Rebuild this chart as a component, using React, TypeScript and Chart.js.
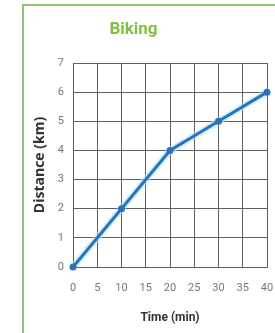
import React, { useEffect, useRef } from "react";
import { Chart, registerables } from "chart.js";

Chart.register(...registerables);

const titleText = "Biking";
const xTitle = "Time (min)";
const yTitle = "Distance (km)";
const timeMin = [0, 10, 20, 30, 40];
const distanceKm = [0, 2, 4, 5, 6];

const TICKFONT = "Roboto, 'Liberation Sans', sans-serif";

export default function App() {
  const ref = useRef<HTMLCanvasElement | null>(null);

  useEffect(() => {
    if (!ref.current) return;
    const pts = timeMin.map((x, i) => ({ x, y: distanceKm[i] }));
    const chart = new Chart(ref.current, {
      type: "line",
      data: {
        datasets: [
          {
            data: pts,
            borderColor: "#2a72bc",
            backgroundColor: "#2a72bc",
            borderWidth: 3,
            pointRadius: 3.5,
            pointBorderWidth: 0,
            tension: 0,
            clip: false,
            order: 0,
          },
          {
            data: pts,
            borderColor: "rgba(175,228,248,0.55)",
            borderWidth: 7,
            pointRadius: 0,
            tension: 0,
            clip: false,
            order: 1,
          },
        ],
      },
      options: {
        animation: false,
        responsive: false,
        maintainAspectRatio: false,
        layout: { padding: { left: 0, right: 8, top: 0, bottom: 0 } },
        plugins: {
          legend: { display: false },
          tooltip: { enabled: false },
          title: {
            display: true,
            text: titleText,
            color: "#7fc146",
            font: { family: TICKFONT, size: 17, weight: "bold" },
            padding: { top: 20, bottom: 22.6 },
          },
        },
        scales: {
          x: {
            type: "linear",
            min: 0,
            max: 40,
            ticks: {
              stepSize: 5,
              padding: 1,
              color: "#777777",
              font: { family: TICKFONT, size: 11 },
            },
            grid: {
              color: "#5f5f5f",
              lineWidth: 1,
              drawTicks: true,
              tickLength: 14,
              tickColor: "rgba(0,0,0,0)",
            },
            border: { display: true, color: "#5f5f5f" },
            title: {
              display: true,
              text: xTitle,
              color: "#333333",
              font: { family: TICKFONT, size: 12, weight: "bold" },
              padding: { top: 0, bottom: 7.5 },
            },
            afterFit: (s: any) => {
              s.height = 66;
            },
          },
          y: {
            min: 0,
            max: 7,
            ticks: {
              stepSize: 1,
              padding: 9,
              color: "#777777",
              font: { family: TICKFONT, size: 11 },
            },
            grid: { color: "#5f5f5f", lineWidth: 1, drawTicks: false },
            border: { display: true, color: "#5f5f5f" },
            title: {
              display: true,
              text: yTitle,
              color: "#333333",
              font: { family: "'Open Sans', sans-serif", size: 14, weight: "bold" },
              padding: { top: 32, bottom: 0 },
            },
            afterFit: (s: any) => {
              s.width = 73;
            },
          },
        },
      },
    });
    return () => chart.destroy();
  }, []);

  return (
    <div
      style={{
        position: "fixed",
        left: 0,
        top: 0,
        width: 275,
        height: 333,
        overflow: "hidden",
        background: "#ffffff",
      }}
    >
      <div
        style={{
          position: "absolute",
          left: 22,
          top: 4,
          width: 300,
          height: 360,
          border: "2px solid #8fc577",
          boxSizing: "border-box",
        }}
      />
      <canvas
        ref={ref}
        width={275}
        height={333}
        style={{ position: "absolute", left: 0, top: 0, width: 275, height: 333 }}
      />
    </div>
  );
}
